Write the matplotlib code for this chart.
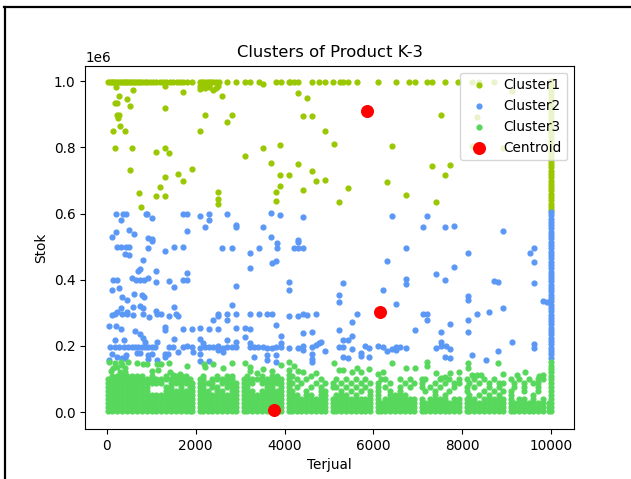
import matplotlib
matplotlib.use("Agg")
import matplotlib.pyplot as plt
from matplotlib.lines import Line2D

plt.rcParams["font.size"] = 9.85

# Cluster1 - top row (stok about 1e6) and the scattered points below it
c1_top_x = [40, 80, 120, 150, 190, 230, 280, 330, 370, 410, 440, 480, 520, 560, 610, 660, 700, 740, 800, 860, 900,
            980, 1040, 1100, 1200, 1260, 1340, 1420, 1500, 1580, 1640, 1720, 1800, 1912, 2100, 2150, 2200, 2260,
            2300, 2350, 2400, 2450, 2530, 2715, 2917, 3112, 3225, 3420, 3810, 3922, 4095, 4130, 4215, 4312, 4620,
            4785, 4912, 5100, 5250, 5325, 5422, 5625, 6105, 6510, 6810, 6937, 7215, 7327, 7612, 7912, 8212, 8370, 8722]
c1_top_y = [.998] * len(c1_top_x)
c1_x = [202, 270, 450, 188, 240, 518, 585, 1312, 1710, 1312, 2108, 2212, 2400, 2602, 2205, 2820, 2715, 2108, 225, 278,
        262, 292, 135, 405, 188, 562, 1312, 1118, 1402, 518, 1598, 1312, 1912, 1710, 1200, 1118, 1312, 735, 780, 2512,
        2512, 2512, 3112, 3510, 3908, 3705, 4312, 3908, 4110, 4620, 4710, 3908, 3818, 3818, 4418, 4312, 4515, 4418,
        4620, 7530, 4912, 5108, 6412, 8325, 8212, 8925, 7328, 7725, 7612, 4912, 5422, 6308, 6728, 5220, 7418, 9120,
        3510, 2150, 2300, 2510, 2108, 2212, 2300, 2450]
c1_y = [.982, .956, .947, .934, .934, .925, .973, .986, .967, .919, .976, .989, .974, .955, .898, .898, .878, .851,
        .898, .898, .89, .866, .849, .849, .797, .797, .797, .785, .782, .732, .72, .711, .735, .699, .681, .654, .654,
        .663, .619, .666, .643, .63, .773, .797, .806, .753, .75, .717, .717, .729, .699, .683, .666, .639, .672, .964,
        .95, .895, .895, .899, .851, .81, .803, .893, .805, .797, .744, .747, .717, .702, .678, .697, .657, .634, .634,
        .972, .992, .985, .982, .985, .985, .98, .985, .98]
c1_col_y = [1.0, .99, .98, .97, .96, .95, .94, .93, .92, .91, .9, .89, .88, .87, .86, .85, .84, .83, .82, .81, .8, .79,
            .78, .77, .76, .75, .74, .73, .72, .71, .7, .69, .68, .67, .66, .65, .64, .63, .62, .61]

# Cluster2 - scattered points
c2_high_x = [218, 375, 435, 315, 878, 910, 1012, 1710, 1800, 2108, 2310, 2310, 2205, 1800, 2715, 2918, 2918, 3510, 3705,
             3908, 4418, 3705, 4312, 495, 608, 202, 112, 930, 1012, 6412, 7215, 7125, 7612, 7815, 8925, 225, 322, 435,
             510, 412, 510, 938, 1012, 1312, 1515, 1710, 825, 750, 705, 562, 660, 750, 840, 938, 1118, 1118, 1402,
             1515, 1710, 1800, 1800, 135, 225, 112, 270, 338, 450, 608, 788, 840, 2602, 2820, 3225, 3225, 3420, 3712,
             3818, 3825, 3825, 4110, 4110, 4215, 4312, 4312, 4418, 6728, 6308, 8122, 9525, 9615, 9615, 7815, 7418,
             7612, 6728, 6728, 5310, 8715, 8812, 9615, 6218, 5220, 5220, 8122, 8122, 6510, 9810, 9915, 2918]
c2_high_y = [.598, .598, .598, .58, .598, .598, .586, .598, .598, .592, .598, .58, .56, .547, .598, .567, .56, .561, .601,
             .595, .589, .53, .52, .55, .538, .544, .529, .527, .523, .592, .592, .561, .561, .564, .547, .5, .498, .498,
             .5, .478, .476, .496, .518, .488, .498, .5, .46, .432, .427, .406, .4, .4, .4, .406, .427, .392, .397, .377,
             .4, .4, .421, .398, .398, .368, .374, .348, .339, .357, .353, .348, .496, .496, .482, .437, .496, .45, .458,
             .496, .51, .394, .369, .496, .515, .496, .496, .496, .458, .482, .482, .496, .455, .44, .416, .398, .401,
             .386, .389, .395, .392, .389, .368, .354, .333, .35, .339, .327, .336, .334, .38]
c2_low_x = [315, 450, 600, 750, 810, 112, 188, 225, 338, 450, 585, 825, 960, 1118, 1125, 1222, 1402, 1515, 1560, 1612,
            45, 202, 315, 645, 750, 1312, 1312, 1710, 1912, 1515, 75, 188, 285, 390, 488, 562, 638, 712, 788, 862, 938,
            1012, 1088, 188, 390, 825, 862, 1125, 112, 225, 338, 435, 675, 750, 938, 938, 1012, 60, 412, 1125, 1312,
            1312, 1388, 1402, 1500, 1612, 1710, 1800, 1912, 1935, 2108, 2310, 2512, 2108, 2175, 2108, 2108, 2108, 2310,
            2212, 2310, 2400, 2512, 2512, 2610, 2610, 2715, 2715, 2820, 2918, 2918, 2400, 2512, 2512, 2715, 2715, 2820,
            2918, 2918, 3112, 3225, 3112, 3225, 3225, 3315, 3412, 3510, 3600, 3712, 3810, 3915, 3915, 3315, 3615, 3615,
            3810, 3810, 3915, 3810, 3225, 3420, 3615, 3712, 4110, 4312, 4418, 4515, 4710, 4418, 4620, 4110, 4312, 4418,
            4418, 4620, 4710, 4785, 4620, 4620, 4620, 5625, 7125, 7215, 8325, 8610, 8925, 7215, 8122, 5512, 7725, 5220,
            6930, 7530, 8122, 5512, 5310, 5422, 4822, 7530, 9120, 9615, 9615, 4912, 5220, 5310, 5512, 5812, 5910, 5715,
            5715, 5310, 5422, 5910, 6112, 6218, 6308, 6412, 6510, 6510, 6608, 6728, 7418, 7530, 7635, 7725, 7612, 7725,
            8212, 8528, 8812]
c2_low_y = [.314, .303, .319, .32, .314, .293, .298, .303, .296, .296, .293, .298, .288, .305, .298, .296, .29, .319, .298,
            .29, .261, .261, .25, .246, .236, .256, .248, .25, .25, .22, .198, .198, .198, .198, .198, .198, .198, .198,
            .198, .198, .198, .198, .198, .218, .218, .223, .213, .213, .177, .167, .165, .172, .179, .179, .172, .162,
            .177, .157, .165, .157, .177, .167, .177, .198, .198, .182, .198, .2, .198, .182, .255, .252, .252, .22,
            .208, .193, .177, .154, .155, .198, .198, .198, .2, .188, .193, .182, .218, .198, .198, .198, .213, .278,
            .29, .296, .296, .278, .323, .296, .255, .255, .25, .228, .208, .198, .198, .196, .196, .193, .193, .196,
            .208, .196, .168, .172, .159, .172, .152, .231, .263, .296, .296, .296, .296, .29, .29, .296, .293, .296,
            .24, .243, .195, .193, .2, .188, .198, .203, .208, .175, .162, .152, .296, .296, .296, .296, .303, .315,
            .279, .279, .273, .267, .249, .249, .241, .243, .231, .217, .217, .213, .213, .213, .205, .193, .186, .196,
            .196, .19, .199, .193, .18, .17, .167, .165, .168, .199, .196, .186, .192, .198, .188, .196, .193, .193,
            .199, .199, .19, .168, .163, .174, .159, .186]
c2_col_y = [.605, .595, .585, .575, .565, .555, .545, .535, .525, .515, .505, .495, .485, .475, .465, .455, .445, .435,
            .425, .415, .405, .395, .385, .375, .365, .355, .345, .335, .325, .315, .305, .295, .285, .275, .265, .255,
            .245, .235, .225, .215, .205, .195, .185, .175, .165]

# Cluster3 - sparse points on top of the dense mass
c3_top_x = [60, 188, 315, 488, 240, 412, 690, 810, 915, 1125, 1215, 1402, 1800, 2190, 2400, 2205, 2610, 2820, 3112, 3225,
            3225, 3510, 3375, 3712, 3915, 4110, 4215, 4110, 4312, 4418, 4110, 4710, 5108, 6412, 7215, 7215, 8122, 8122,
            8812, 6728, 6930, 5310, 5220, 5625, 5910, 5715, 5512, 6218, 6112, 7418, 7725, 7920, 8925, 9412, 9225, 9720,
            9810, 8325, 8422, 8220, 7612, 7522, 1010, 1150, 1420, 1500, 1640, 100, 350, 150, 300, 420]
c3_top_y = [.152, .147, .152, .152, .137, .132, .149, .145, .145, .145, .145, .149, .138, .145, .145, .135, .132, .149,
            .149, .137, .125, .129, .119, .125, .142, .152, .14, .127, .125, .12, .112, .117, .148, .148, .152, .139, .148,
            .132, .148, .132, .133, .127, .127, .132, .129, .122, .12, .122, .114, .119, .119, .121, .115, .121, .111,
            .109, .111, .112, .111, .111, .107, .102, .125, .128, .12, .112, .115, .125, .142, .132, .122, .12]

# Cluster3 - dense band, one list of x values for each stok level
c3_full_x = [20, 130, 240, 350, 460, 570, 680, 790, 900, 1010, 1120, 1230, 1340, 1450, 1560, 1670, 1780, 1880, 1925,
             2095, 2160, 2270, 2380, 2490, 2600, 2710, 2820, 2915, 3095, 3160, 3270, 3380, 3490, 3600, 3710, 3820, 3915,
             4095, 4160, 4270, 4380, 4490, 4600, 4710, 4820, 4915, 5095, 5160, 5270, 5380, 5490, 5600, 5710, 5820, 5915,
             6095, 6160, 6270, 6380, 6490, 6600, 6710, 6820, 6915, 7095, 7160, 7270, 7380, 7490, 7600, 7710, 7820, 7915,
             8095, 8160, 8270, 8380, 8490, 8600, 8710, 8820, 8915, 9095, 9160, 9270, 9380, 9490, 9600, 9710, 9820, 9940,
             10000]
c3_y040_x = [20, 130, 240, 350, 460, 570, 680, 790, 900, 1010, 1120, 1230, 1340, 1450, 1560, 1670, 1780, 1880, 1925,
             2095, 2160, 2270, 2380, 2490, 2600, 2710, 2820, 2915, 3095, 3160, 3270, 3380, 3490, 3600, 3710, 3820, 3915,
             4095, 4160, 4270, 4380, 4490, 4600, 4710, 4820, 4915, 5095, 5160, 5270, 5380, 5490, 5600, 5710, 5820, 5915,
             6095, 6270, 6380, 6490, 6600, 6710, 6820, 6915, 7095, 7270, 7380, 7490, 7600, 7820, 7915, 8095, 8160, 8270,
             8490, 8600, 8710, 8820, 8915, 9095, 9270, 9380, 9600, 9820, 10000]
c3_y052_x = [20, 130, 240, 350, 460, 570, 680, 790, 900, 1010, 1120, 1230, 1340, 1450, 1560, 1670, 1780, 1880, 1925,
             2095, 2160, 2270, 2380, 2490, 2600, 2710, 2820, 2915, 3095, 3160, 3270, 3380, 3490, 3600, 3710, 3820, 3915,
             4095, 4160, 4270, 4490, 4600, 4820, 4915, 5160, 5270, 5380, 5600, 5915, 6095, 6380, 6490, 6600, 6710, 7380,
             7600, 8160, 8380, 8600, 8820, 9095, 9600, 10000]
c3_y064_x = [20, 130, 240, 350, 460, 570, 680, 790, 900, 1340, 1450, 1560, 1670, 1780, 1880, 1925, 2095, 2160, 2270,
             2490, 2600, 2820, 2915, 3095, 3160, 3270, 3490, 3600, 3710, 3820, 3915, 4095, 4160, 4490, 4820, 4915, 5270,
             5490, 5710, 5915, 6095, 6380, 6600, 7160, 7380, 7710, 8095, 8490, 8710, 8915, 9095, 9380, 9710, 10000]
c3_y076_x = [20, 130, 240, 350, 460, 570, 680, 790, 900, 1340, 1450, 1670, 1880, 1925, 2095, 2160, 2380, 2490, 2710,
             2820, 2915, 3095, 3160, 3600, 3710, 3915, 4095, 4270, 4600, 4820, 5095, 5160, 5380, 5600, 5820, 6095, 6270,
             6600, 6820, 7095, 7270, 7490, 7820, 8095, 8270, 8600, 8820, 9160, 9380, 9710, 10000]
c3_y088_x = [20, 130, 240, 350, 460, 570, 680, 790, 900, 1010, 1120, 1230, 1450, 1560, 1670, 1780, 1880, 1925, 2095,
             2160, 2270, 2380, 2600, 2710, 2820, 2915, 3095, 3160, 3270, 3490, 3600, 3710, 3820, 3915, 4095, 4160, 4380,
             4710, 4915, 5095, 5270, 5490, 5710, 5915, 6095, 6380, 6710, 6915, 7095, 7380, 7600, 7820, 7915, 8160, 8380,
             8600, 8820, 8915, 9160, 9380, 9600, 9710, 10000]
c3_y100_x = [20, 130, 240, 350, 460, 570, 680, 790, 900, 1010, 1120, 1230, 1340, 1450, 1560, 1670, 1780, 1880, 2095,
             2160, 2380, 2490, 2600, 2710, 2820, 3095, 3160, 3270, 3380, 3490, 3600, 3710, 3820, 3915, 4095, 4270, 4490,
             4820, 5160, 5380, 5600, 5820, 6160, 6270, 6600, 6820, 7095, 7160, 7490, 7710, 7915, 8095, 8270, 8490, 8710,
             9095, 9270, 9490, 9710, 9820, 10000]
c3_y110_x = [130, 240, 350, 460, 570, 680, 790, 1010, 1340, 1560, 1670, 1780, 2160, 2490, 2710, 2820, 3160, 3490, 3710,
             3820, 4160, 4600, 10000]
c3_row_y = [.003, .015, .027, .04, .052, .064, .076, .088, .1, .11]

centroid_x = [5865, 6150, 3772]
centroid_y = [.91, .303, .006]

col_x = 10000

tick_x = [0, 2000, 4000, 6000, 8000, 10000]

c3_rows = [c3_full_x, c3_full_x, c3_full_x, c3_y040_x, c3_y052_x, c3_y064_x, c3_y076_x, c3_y088_x, c3_y100_x, c3_y110_x]

x1 = c1_top_x + c1_x + [col_x] * len(c1_col_y)
y1 = c1_top_y + c1_y + c1_col_y
x2 = c2_high_x + c2_low_x + [col_x] * len(c2_col_y)
y2 = c2_high_y + c2_low_y + c2_col_y
x3 = list(c3_top_x)
y3 = list(c3_top_y)
for row_x, row_y in zip(c3_rows, c3_row_y):
    x3 += row_x
    y3 += [row_y] * len(row_x)
# green column at 10000 runs up to about 0.155
for v in [.12, .13, .14, .15]:
    x3.append(col_x)
    y3.append(v)

fig = plt.figure(figsize=(6.31, 4.79), dpi=100)
ax = fig.add_axes([85.3 / 631, 1 - 429 / 479, (574.3 - 85.3) / 631, (429 - 65.7) / 479])

ax.scatter(x1, [v * 1e6 for v in y1], s=12, linewidths=1, color="#9ac800", label="Cluster1")
ax.scatter(x2, [v * 1e6 for v in y2], s=12, linewidths=1, color="#5b98f6", label="Cluster2")
ax.scatter(x3, [v * 1e6 for v in y3], s=12, linewidths=1, color="#57d85c", label="Cluster3")
ax.scatter(centroid_x, [v * 1e6 for v in centroid_y], s=70, linewidths=1, color="red", label="Centroid")

ax.set_xlim(-481, 10518)
ax.set_ylim(-0.051e6, 1.047e6)
ax.set_xticks(tick_x)
ax.set_title("Clusters of Product K-3", fontsize=11.8)
ax.set_xlabel("Terjual")
ax.set_ylabel("Stok")
ax.legend(loc="upper right")

# screenshot border on the left and top
fig.add_artist(Line2D([5 / 631, 5 / 631], [0, 1 - 6.7 / 479], color="black", lw=1.6))
fig.add_artist(Line2D([4.4 / 631, 1], [1 - 6.7 / 479, 1 - 6.7 / 479], color="black", lw=1.6))

fig.savefig("out.png", dpi=100)
